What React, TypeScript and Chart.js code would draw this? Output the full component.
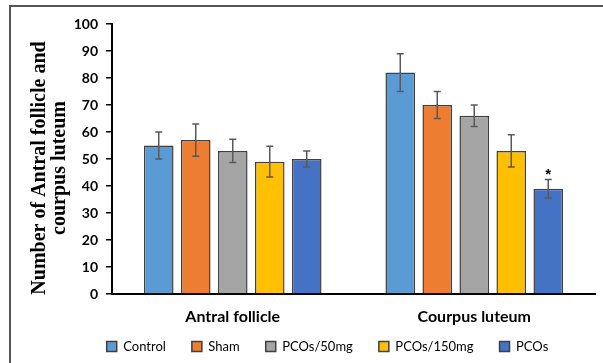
import React, { useEffect, useRef } from "react";
import { Chart, registerables } from "chart.js";

Chart.register(...registerables);

const categories = ["Antral follicle", "Courpus luteum"];
const seriesNames = ["Control", "Sham", "PCOs/50mg", "PCOs/150mg", "PCOs"];
const controlValues = [55, 82];
const controlErrors = [5, 7];
const shamValues = [57, 70];
const shamErrors = [6, 5];
const pcos50Values = [53, 66];
const pcos50Errors = [4.3, 4];
const pcos150Values = [49, 53];
const pcos150Errors = [5.7, 6];
const pcosValues = [50, 39];
const pcosErrors = [3, 3.4];
const pcosMarks = ["", "*"];
const seriesColors = ["#5B9BD5", "#ED7D31", "#A5A5A5", "#FFC000", "#4472C4"];
const yTitleLines = ["Number of Antral follicle and", "courpus luteum"];
const yMin = 0;
const yMax = 100;
const yStep = 10;

const seriesValues = [controlValues, shamValues, pcos50Values, pcos150Values, pcosValues];
const seriesErrors = [controlErrors, shamErrors, pcos50Errors, pcos150Errors, pcosErrors];
const seriesMarks = [[], [], [], [], pcosMarks];

const errorBarPlugin = {
  id: "errorBars",
  afterDatasetsDraw(chart: any) {
    const ctx = chart.ctx;
    const yScale = chart.scales.y;
    chart.data.datasets.forEach((ds: any, i: number) => {
      const meta = chart.getDatasetMeta(i);
      if (meta.hidden) return;
      meta.data.forEach((bar: any, j: number) => {
        const v = ds.data[j];
        const e = ds.errors[j];
        const x = bar.x;
        const yt = yScale.getPixelForValue(v + e);
        const yb = yScale.getPixelForValue(v - e);
        ctx.save();
        ctx.strokeStyle = "#595959";
        ctx.lineWidth = 1.5;
        ctx.beginPath();
        ctx.moveTo(x, yt);
        ctx.lineTo(x, yb);
        ctx.moveTo(x - 3.5, yt);
        ctx.lineTo(x + 3.5, yt);
        ctx.moveTo(x - 3.5, yb);
        ctx.lineTo(x + 3.5, yb);
        ctx.stroke();
        const mark = ds.marks && ds.marks[j];
        if (mark) {
          ctx.fillStyle = "#000";
          ctx.font = "bold 15px 'Liberation Sans'";
          ctx.textAlign = "center";
          ctx.textBaseline = "alphabetic";
          ctx.fillText(mark, x, yt - 1);
        }
        ctx.restore();
      });
    });
  },
};

const yTitlePlugin = {
  id: "yTitle",
  afterDraw(chart: any) {
    const ctx = chart.ctx;
    const cy = 168;
    const xs = [45, 65];
    ctx.save();
    ctx.fillStyle = "#000";
    ctx.font = "bold 20px 'Liberation Serif'";
    ctx.textAlign = "center";
    ctx.textBaseline = "alphabetic";
    yTitleLines.forEach((line, i) => {
      ctx.save();
      ctx.translate(xs[i], cy);
      ctx.rotate(-Math.PI / 2);
      ctx.fillText(line, 0, 0);
      ctx.restore();
    });
    ctx.restore();
  },
};

// widen the x scale's label clip box so category labels are not cut off
const xLabelRoomPlugin = {
  id: "xLabelRoom",
  afterLayout(chart: any) {
    const xs = chart.scales.x;
    xs.bottom = xs.top + 45;
  },
};

export default function App() {
  const canvasRef = useRef<HTMLCanvasElement | null>(null);

  useEffect(() => {
    if (!canvasRef.current) return;
    const chart = new Chart(canvasRef.current, {
      type: "bar",
      data: {
        labels: categories,
        datasets: seriesNames.map((name, i) => ({
          label: name,
          data: seriesValues[i],
          errors: seriesErrors[i],
          marks: seriesMarks[i],
          backgroundColor: seriesColors[i],
          borderColor: "#404040",
          borderWidth: 1.5,
          categoryPercentage: 0.766,
          barPercentage: 0.8,
        })) as any,
      },
      options: {
        animation: false,
        responsive: false,
        devicePixelRatio: 1,
        layout: { padding: { left: 60, right: 8, top: 24, bottom: 0 } },
        plugins: {
          tooltip: { enabled: false },
          legend: {
            position: "bottom",
            labels: {
              boxWidth: 10,
              boxHeight: 10,
              padding: 26,
              color: "#000",
              font: { family: "Lato", size: 13, weight: "normal" },
            },
          },
        },
        scales: {
          x: {
            grid: { display: false, drawTicks: false },
            border: { display: true, color: "#000", width: 2 },
            ticks: {
              color: "#000",
              padding: 13,
              font: { family: "Lato", size: 16, weight: "bold" },
            },
            afterFit(scale: any) {
              scale.height = 20;
            },
          },
          y: {
            min: yMin,
            max: yMax,
            grid: {
              drawOnChartArea: false,
              drawTicks: true,
              tickLength: 6,
              color: "#000",
              lineWidth: 1.5,
            },
            border: { display: true, color: "#000", width: 2 },
            ticks: {
              stepSize: yStep,
              color: "#000",
              padding: 8,
              font: { family: "Lato", size: 14, weight: "bold" },
            },
            afterFit(scale: any) {
              scale.width = 52;
            },
          },
        },
      },
      plugins: [errorBarPlugin, yTitlePlugin, xLabelRoomPlugin],
    });
    return () => chart.destroy();
  }, []);

  return (
    <div
      style={{
        position: "absolute",
        left: 0,
        top: 0,
        width: 603,
        height: 363,
        background: "#fff",
        overflow: "hidden",
      }}
    >
      <div
        style={{
          position: "absolute",
          left: 9,
          top: 5,
          width: 700,
          height: 400,
          borderLeft: "2px solid #555",
          borderTop: "2px solid #555",
        }}
      />
      <canvas
        ref={canvasRef}
        width={603}
        height={363}
        style={{ position: "absolute", left: 0, top: 0 }}
      />
    </div>
  );
}
